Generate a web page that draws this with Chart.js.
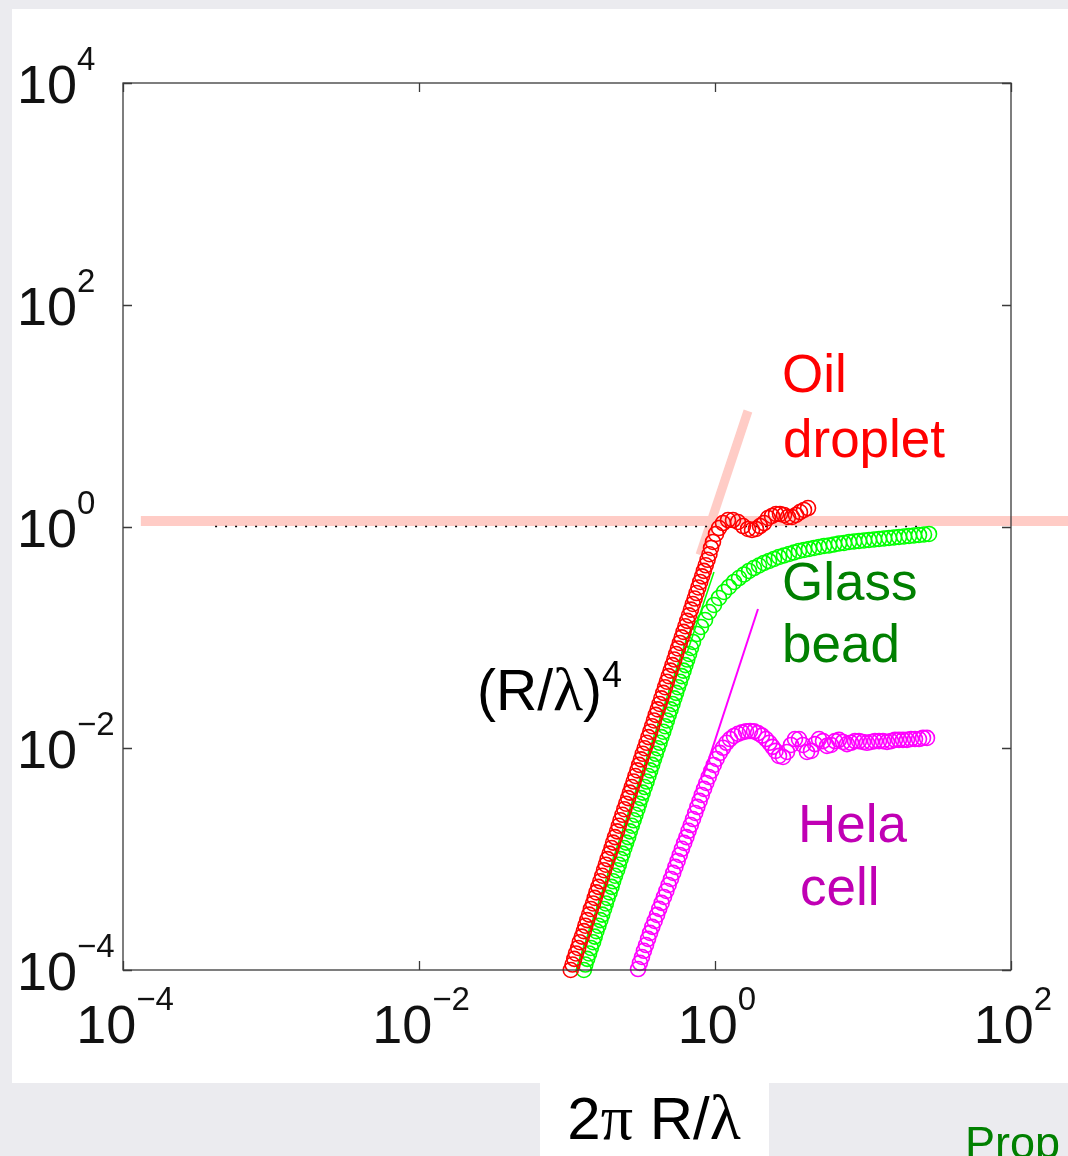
<!DOCTYPE html>
<html><head><meta charset="utf-8">
<script src="https://cdn.jsdelivr.net/npm/chart.js@4.4.1/dist/chart.umd.min.js"></script>
<style>html,body{margin:0;padding:0;background:#ececf0;}canvas{display:block;}</style>
</head><body>
<canvas id="c" width="1068" height="1156"></canvas>
<script>
// ---------- tick labels ----------
const xTickValues = [1e-4, 1e-2, 1, 100];
const xTickExponents = ['\u22124', '\u22122', '0', '2'];
const yTickValues = [1e-4, 1e-2, 1, 100, 1e4];
const yTickExponents = ['\u22124', '\u22122', '0', '2', '4'];
const xAxisTitle = ['2', '\u03c0', ' R/', '\u03bb'];

// ---------- Oil droplet (red) ----------
const oilX = [0.106,0.109,0.112,0.115,0.119,0.122,0.126,0.130,0.133,0.137,
0.141,0.145,0.150,0.154,0.158,0.163,0.168,0.173,0.178,0.183,
0.188,0.194,0.200,0.205,0.211,0.218,0.224,0.230,0.237,0.244,
0.251,0.259,0.266,0.274,0.282,0.290,0.299,0.307,0.316,0.325,
0.335,0.345,0.355,0.365,0.376,0.387,0.398,0.410,0.422,0.434,
0.447,0.460,0.473,0.487,0.501,0.516,0.531,0.546,0.562,0.579,
0.596,0.613,0.631,0.649,0.668,0.688,0.708,0.729,0.750,0.772,
0.794,0.818,0.841,0.866,0.891,0.917,0.940,
0.969,1.016,1.064,1.133,1.224,1.323,1.430,1.546,1.671,1.778,
1.892,2.014,2.143,2.281,2.427,2.584,2.749,2.926,3.113,3.313,
3.526,3.752,3.994,4.251];
const oilY = [1.00e-4,1.12e-4,1.26e-4,1.41e-4,1.58e-4,1.78e-4,2.00e-4,2.24e-4,2.51e-4,2.82e-4,
3.16e-4,3.55e-4,3.98e-4,4.47e-4,5.01e-4,5.62e-4,6.31e-4,7.08e-4,7.94e-4,8.91e-4,
1.00e-3,1.12e-3,1.26e-3,1.41e-3,1.58e-3,1.78e-3,2.00e-3,2.24e-3,2.51e-3,2.82e-3,
3.16e-3,3.55e-3,3.98e-3,4.47e-3,5.01e-3,5.62e-3,6.31e-3,7.08e-3,7.94e-3,8.91e-3,
0.0100,0.0112,0.0126,0.0141,0.0158,0.0178,0.0200,0.0224,0.0251,0.0282,
0.0316,0.0355,0.0398,0.0447,0.0501,0.0562,0.0631,0.0708,0.0794,0.0891,
0.100,0.112,0.126,0.141,0.158,0.178,0.200,0.224,0.251,0.282,
0.316,0.355,0.398,0.447,0.501,0.562,0.640,
0.725,0.856,0.969,1.075,1.144,1.144,1.098,1.010,0.950,0.930,
0.950,1.010,1.075,1.193,1.244,1.297,1.297,1.270,1.218,1.218,
1.270,1.351,1.409,1.468];

// ---------- Glass bead (green) ----------
const glassX = [0.130,0.133,0.137,0.141,0.145,0.150,0.154,0.158,0.163,0.168,
0.173,0.178,0.183,0.188,0.194,0.200,0.205,0.211,0.218,0.224,
0.230,0.237,0.244,0.251,0.259,0.266,0.274,0.282,0.290,0.299,
0.307,0.316,0.325,0.335,0.345,0.355,0.365,0.376,0.387,0.398,
0.410,0.422,0.434,0.447,0.460,0.473,0.487,0.501,0.516,0.531,
0.546,0.562,0.579,0.596,0.613,0.631,0.649,0.668,0.688,
0.710,0.756,0.804,0.856,0.911,0.984,1.064,1.150,1.243,1.344,
1.453,1.570,1.697,1.834,1.983,2.143,2.317,2.504,2.706,2.926,
3.162,3.418,3.694,3.994,4.317,4.666,5.043,5.451,5.892,6.370,
6.883,7.440,8.043,8.695,9.397,10.16,10.98,11.87,12.83,13.87,
14.99,16.20,17.51,18.92,20.46,22.11,23.90,25.84,27.92];
const glassY = [1.00e-4,1.12e-4,1.26e-4,1.41e-4,1.58e-4,1.78e-4,2.00e-4,2.24e-4,2.51e-4,2.82e-4,
3.16e-4,3.55e-4,3.98e-4,4.47e-4,5.01e-4,5.62e-4,6.31e-4,7.08e-4,7.94e-4,8.91e-4,
1.00e-3,1.12e-3,1.26e-3,1.41e-3,1.58e-3,1.78e-3,2.00e-3,2.24e-3,2.51e-3,2.82e-3,
3.16e-3,3.55e-3,3.98e-3,4.47e-3,5.01e-3,5.62e-3,6.31e-3,7.08e-3,7.94e-3,8.91e-3,
0.0100,0.0112,0.0126,0.0141,0.0158,0.0178,0.0200,0.0224,0.0251,0.0282,
0.0316,0.0355,0.0398,0.0447,0.0501,0.0562,0.0631,0.0708,0.0802,
0.0909,0.1073,0.1241,0.1435,0.1694,0.1960,0.2266,0.2566,0.2848,0.3159,
0.3431,0.3692,0.3970,0.4223,0.4449,0.4688,0.4886,0.5093,0.5309,0.5477,
0.5649,0.5828,0.6013,0.6139,0.6268,0.6400,0.6534,0.6672,0.6741,0.6882,
0.7027,0.7101,0.7250,0.7326,0.7402,0.7479,0.7557,0.7635,0.7715,0.7795,
0.7876,0.7959,0.8042,0.8126,0.8211,0.8295,0.8383,0.8470,0.8559];

// ---------- Hela cell (magenta) ----------
const helaX = [0.302,0.311,0.321,0.331,0.342,0.353,0.364,0.377,0.391,0.406,
0.420,0.436,0.452,0.469,0.486,0.504,0.522,0.540,0.559,0.578,
0.598,0.619,0.641,0.663,0.686,0.710,0.735,0.760,0.787,0.814,
0.843,0.873,0.907,0.943,0.981,1.025,1.077,1.133,1.196,1.263,
1.344,1.430,1.522,1.620,1.724,1.834,1.952,2.078,2.211,2.334,
2.446,2.564,2.706,2.881,3.065,3.262,3.471,3.694,3.932,4.184,
4.453,4.739,5.043,5.367,5.711,6.078,6.468,6.883,7.325,7.796,
8.296,8.829,9.397,10.0,10.64,11.33,12.05,12.83,13.65,14.53,
15.46,16.45,17.51,18.63,19.83,21.10,22.46,23.90,25.43,27.06];
const helaY = [1.02e-4,1.16e-4,1.31e-4,1.49e-4,1.68e-4,1.91e-4,2.16e-4,2.45e-4,2.77e-4,3.14e-4,
3.56e-4,4.03e-4,4.56e-4,5.16e-4,5.85e-4,6.62e-4,7.51e-4,8.51e-4,9.63e-4,1.09e-3,
1.24e-3,1.40e-3,1.58e-3,1.80e-3,2.03e-3,2.30e-3,2.61e-3,2.96e-3,3.35e-3,3.79e-3,
4.30e-3,4.86e-3,5.51e-3,6.24e-3,7.07e-3,8.01e-3,9.08e-3,0.0101,0.0112,0.0121,
0.0129,0.0135,0.0139,0.0142,0.0143,0.0142,0.0137,0.0130,0.0121,0.0112,
0.0103,0.00946,0.00853,0.00835,0.00926,0.0107,0.0121,0.0121,0.0107,0.00926,
0.00946,0.0109,0.0121,0.0116,0.0105,0.0107,0.0116,0.0119,0.0114,0.0109,
0.0112,0.0116,0.0116,0.0114,0.0112,0.0114,0.0116,0.0116,0.0116,0.0114,
0.0116,0.0119,0.0119,0.0119,0.0119,0.0121,0.0121,0.0121,0.0124,0.0124];

// ---------- guide lines ----------
const limitX = [1.32e-4, 250];      // thick pink horizontal
const limitY = [1.12, 1.12];
const oilFitX = [0.792, 1.67];      // thick pink (R/lambda)^4
const oilFitY = [0.553, 11.0];
const glassFitX = [0.65, 0.984];    // thin green (R/lambda)^4
const glassFitY = [0.0739, 0.389];
const helaFitX = [0.830, 1.952];    // thin magenta (R/lambda)^4
const helaFitY = [0.00551, 0.1804];
const unityX = [4.19e-4, 26.2];     // dotted line at 1
const unityY = [1, 1];

const pts = (xs, ys) => xs.map((v, i) => ({x: v, y: ys[i]}));

const SANS = '"Liberation Sans", Arial, Helvetica, sans-serif';
const SERIF = '"Liberation Serif", "Times New Roman", serif';

function drawRuns(ctx, runs, x, y, align) {
  let total = 0;
  runs.forEach(r => { ctx.font = r.font; r.w = ctx.measureText(r.t).width; total += r.w; });
  let cx = align === 'center' ? x - total / 2 : x;
  runs.forEach(r => {
    ctx.font = r.font;
    ctx.fillText(r.t, cx, y + (r.dy || 0));
    cx += r.w;
  });
}

const bgPlugin = {
  id: 'bg',
  beforeDraw(chart) {
    const ctx = chart.ctx;
    ctx.save();
    ctx.fillStyle = '#ebebef';
    ctx.fillRect(0, 0, chart.width, chart.height);
    ctx.fillStyle = '#ffffff';
    ctx.fillRect(12, 9, 1056, 1074);
    ctx.fillRect(540, 1083, 229, 73);
    ctx.restore();
  }
};

const framePlugin = {
  id: 'frame',
  afterDatasetsDraw(chart) {
    const {ctx, chartArea: a, scales} = chart;
    const xs = scales.x, ys = scales.y;
    ctx.save();
    ctx.strokeStyle = '#3a3a3a';
    ctx.lineWidth = 1.3;
    ctx.strokeRect(a.left, a.top, a.right - a.left, a.bottom - a.top);
    ctx.beginPath();
    xTickValues.forEach(v => {
      const p = Math.round(xs.getPixelForValue(v)) + 0.5;
      ctx.moveTo(p, a.bottom); ctx.lineTo(p, a.bottom - 9);
      ctx.moveTo(p, a.top); ctx.lineTo(p, a.top + 9);
    });
    yTickValues.forEach(v => {
      const p = Math.round(ys.getPixelForValue(v)) + 0.5;
      ctx.moveTo(a.left, p); ctx.lineTo(a.left + 9, p);
      ctx.moveTo(a.right, p); ctx.lineTo(a.right - 9, p);
    });
    ctx.stroke();

    ctx.fillStyle = '#111';
    ctx.textBaseline = 'alphabetic';
    ctx.textAlign = 'left';
    const big = '54px ' + SANS, small = '33px ' + SANS;
    xTickValues.forEach((v, i) => {
      const p = xs.getPixelForValue(v);
      drawRuns(ctx, [{t: '10', font: big}, {t: xTickExponents[i], font: small, dy: -33}], p + 2, 1043, 'center');
    });
    yTickValues.forEach((v, i) => {
      const p = ys.getPixelForValue(v);
      drawRuns(ctx, [{t: '10', font: big}, {t: yTickExponents[i], font: small, dy: -33}], 17, p + 20, 'left');
    });

    // axis title
    ctx.fillStyle = '#000';
    drawRuns(ctx, [
      {t: xAxisTitle[0], font: '60px ' + SANS},
      {t: xAxisTitle[1], font: '64px ' + SERIF},
      {t: xAxisTitle[2], font: '60px ' + SANS},
      {t: xAxisTitle[3], font: '64px ' + SERIF}
    ], 654, 1139, 'center');

    // (R/lambda)^4
    drawRuns(ctx, [
      {t: '(R/', font: '57px ' + SANS},
      {t: '\u03bb', font: '62px ' + SERIF},
      {t: ')', font: '57px ' + SANS},
      {t: '4', font: '36px ' + SANS, dy: -23}
    ], 477, 710, 'left');

    // series labels
    ctx.font = '53px ' + SANS;
    ctx.fillStyle = '#ff0000';
    ctx.fillText('Oil', 782, 392);
    ctx.fillText('droplet', 783, 457);
    ctx.fillStyle = '#008000';
    ctx.fillText('Glass', 782, 600);
    ctx.fillText('bead', 782, 662);
    ctx.fillStyle = '#c000b4';
    ctx.fillText('Hela', 798, 842);
    ctx.fillText('cell', 800, 905);

    ctx.fillStyle = '#008000';
    ctx.font = '45px ' + SANS;
    ctx.fillText('Prop', 965, 1158);
    ctx.restore();
  }
};

const marker = (color, order) => ({
  showLine: false, pointStyle: 'circle', pointRadius: 7.5, pointBorderWidth: 1.6,
  pointBorderColor: color, pointBackgroundColor: 'rgba(0,0,0,0)',
  borderColor: color, backgroundColor: 'rgba(0,0,0,0)', clip: false, order: order
});
const line = (color, width, order, dash) => ({
  showLine: true, pointRadius: 0, borderColor: color, borderWidth: width,
  borderDash: dash || [], borderCapStyle: 'butt', tension: 0, clip: false, order: order,
  backgroundColor: 'rgba(0,0,0,0)'
});

new Chart(document.getElementById('c'), {
  type: 'scatter',
  data: {
    datasets: [
      Object.assign({label: 'Glass fit', data: pts(glassFitX, glassFitY)}, line('#00ff00', 1.5, 0)),
      Object.assign({label: 'Hela fit', data: pts(helaFitX, helaFitY)}, line('#ff00ff', 2, 0)),
      Object.assign({label: 'Oil droplet', data: pts(oilX, oilY)}, marker('#ff0000', 1)),
      Object.assign({label: 'Glass bead', data: pts(glassX, glassY)}, marker('#00ff00', 2)),
      Object.assign({label: 'Hela cell', data: pts(helaX, helaY)}, marker('#ff00ff', 2)),
      Object.assign({label: 'unity', data: pts(unityX, unityY)}, line('#000000', 1.5, 3, [2, 8])),
      Object.assign({label: 'Oil fit', data: pts(oilFitX, oilFitY)}, line('#ffccc6', 9, 4)),
      Object.assign({label: 'limit', data: pts(limitX, limitY)}, line('#ffccc6', 10, 4))
    ]
  },
  options: {
    responsive: false, animation: false, devicePixelRatio: 1, events: [],
    layout: {padding: {left: 123, top: 83, right: 57, bottom: 186}},
    scales: {
      x: {type: 'logarithmic', min: 1e-4, max: 100, display: false},
      y: {type: 'logarithmic', min: 1e-4, max: 1e4, display: false}
    },
    plugins: {legend: {display: false}, tooltip: {enabled: false}}
  },
  plugins: [bgPlugin, framePlugin]
});
</script>
</body></html>
